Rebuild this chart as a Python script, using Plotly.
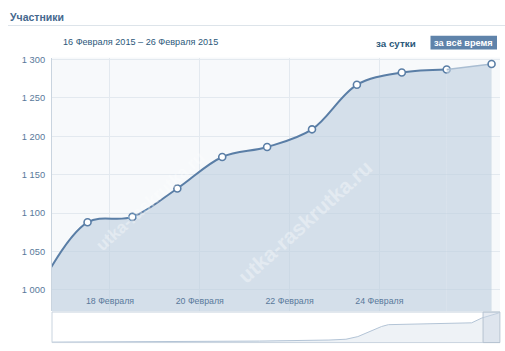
import plotly.graph_objects as go

# ---- data ----
dates = ["2015-02-16 12:00", "2015-02-17 12:00", "2015-02-18 12:00", "2015-02-19 12:00",
         "2015-02-20 12:00", "2015-02-21 12:00", "2015-02-22 12:00", "2015-02-23 12:00",
         "2015-02-24 12:00", "2015-02-25 12:00", "2015-02-26 12:00"]
members = [1010, 1088, 1095, 1132, 1173, 1186, 1209, 1267, 1283, 1287, 1294]

x_tick_vals = ["2015-02-18", "2015-02-20", "2015-02-22", "2015-02-24"]
x_tick_text = ["18 Февраля", "20 Февраля", "22 Февраля", "24 Февраля"]
y_tick_vals = [1000, 1050, 1100, 1150, 1200, 1250, 1300]
y_tick_text = ["1 000", "1 050", "1 100", "1 150", "1 200", "1 250", "1 300"]

nav_dates = ["2014-06-08", "2014-09-03", "2014-10-08", "2014-11-18", "2014-11-28",
             "2014-12-05", "2014-12-12", "2014-12-19", "2014-12-23", "2015-02-10",
             "2015-02-16", "2015-02-26"]
nav_values = [20, 40, 65, 110, 145, 260, 480, 700, 780, 860, 1070, 1290]

title_text = "Участники"
period_text = "16 Февраля 2015 – 26 Февраля 2015"
btn_day = "за сутки"
btn_all = "за всё время"
watermark = "utka-raskrutka.ru"

LINE = "#5a7ea6"
FILL = "rgba(190,206,222,0.62)"
FONT = "Liberation Sans"

fig = go.Figure()

# main series (complete days)
fig.add_trace(go.Scatter(
    x=dates[:-1], y=members[:-1], mode="lines+markers",
    line=dict(color=LINE, width=2, shape="spline", smoothing=1),
    marker=dict(size=7, color="white", line=dict(color=LINE, width=1.6)),
    fill="tozeroy", fillcolor=FILL, hoverinfo="skip",
    xaxis="x", yaxis="y"))
# last (incomplete) day, lighter
fig.add_trace(go.Scatter(
    x=dates[-2:], y=members[-2:], mode="lines",
    line=dict(color="#a9bdd2", width=1.5),
    fill="tozeroy", fillcolor=FILL, hoverinfo="skip",
    xaxis="x", yaxis="y"))
fig.add_trace(go.Scatter(
    x=dates[-1:], y=members[-1:], mode="markers",
    marker=dict(size=7, color="white", line=dict(color=LINE, width=1.6)),
    hoverinfo="skip", xaxis="x", yaxis="y"))

# navigator
fig.add_trace(go.Scatter(
    x=nav_dates, y=nav_values, mode="lines",
    line=dict(color="#b3c4d6", width=1), fill="tozeroy", fillcolor="#eef2f6",
    hoverinfo="skip", xaxis="x2", yaxis="y2"))

H = 351.0
W = 505.0
main_dom_y = [1 - 311 / H, 1 - 55 / H]
nav_dom_y = [1 - 342.5 / H, 1 - 311.7 / H]
dom_x = [52 / W, 500 / W]

fig.update_layout(
    width=505, height=351, margin=dict(l=0, r=0, t=0, b=0),
    paper_bgcolor="white", plot_bgcolor="white", showlegend=False,
    font=dict(family=FONT, size=10, color="#59799b"),
    xaxis=dict(domain=dom_x, anchor="y", type="date",
               range=["2015-02-16 17:00", "2015-02-26 16:30"],
               tickvals=x_tick_vals, ticktext=x_tick_text,
               ticklabelposition="inside", ticks="", ticklabelstandoff=3,
               showgrid=True, gridcolor="#e3e9ef", gridwidth=1,
               zeroline=False, showline=False,
               tickfont=dict(family=FONT, size=8.8, color="#59799b")),
    yaxis=dict(domain=main_dom_y, anchor="x", range=[972, 1302.5],
               tickvals=y_tick_vals, ticktext=y_tick_text, ticks="",
               showgrid=True, gridcolor="#e3e9ef", gridwidth=1,
               zeroline=False, showline=True, linecolor="#c9d4df", linewidth=1,
               ticklabelstandoff=4,
               tickfont=dict(family=FONT, size=9.3, color="#59799b")),
    xaxis2=dict(domain=dom_x, anchor="y2", type="date",
                range=["2014-06-08", "2015-02-26 16:30"],
                showticklabels=False, showgrid=False, zeroline=False, ticks=""),
    yaxis2=dict(domain=nav_dom_y, anchor="x2", range=[0, 1330],
                showticklabels=False, showgrid=False, zeroline=False, ticks=""),
)

shapes = [
    # main plot background
    dict(type="rect", xref="x domain", yref="y domain", x0=0, x1=1, y0=0, y1=1,
         fillcolor="#f7f9fb", line=dict(width=0), layer="below"),
    # navigator border
    dict(type="rect", xref="x2 domain", yref="y2 domain", x0=0, x1=1, y0=0, y1=1,
         fillcolor="rgba(0,0,0,0)", line=dict(color="#c9d4df", width=1), layer="above"),
    # navigator selection window
    dict(type="rect", xref="x2", yref="y2 domain", x0="2015-02-16 17:00", x1="2015-02-26 16:30",
         y0=0, y1=1, fillcolor="rgba(205,216,229,0.5)", line=dict(color="#b6c3d1", width=1),
         layer="above"),
    # header separator
    dict(type="line", xref="paper", yref="paper", x0=8 / W, x1=1, y0=1 - 22.7 / H, y1=1 - 22.7 / H,
         line=dict(color="#dde4ea", width=1)),
    # "за всё время" button
    dict(type="rect", xref="paper", yref="paper", x0=430.5 / W, x1=497 / W,
         y0=1 - 47 / H, y1=1 - 33 / H, fillcolor="#5f83aa", line=dict(width=0)),
]
fig.update_layout(shapes=shapes)

ann = [
    dict(text=title_text, x=8 / W, y=1 - 14 / H, xanchor="left", yanchor="middle",
         font=dict(family=FONT, size=10.5, color="#45688e", weight="bold")),
    dict(text=period_text, x=61 / W, y=1 - 39 / H, xanchor="left", yanchor="middle",
         font=dict(family=FONT, size=9.1, color="#2b587a")),
    dict(text=btn_day, x=418 / W, y=1 - 40.5 / H, xanchor="right", yanchor="middle",
         font=dict(family=FONT, size=9.8, color="#2b587a", weight="bold")),
    dict(text=btn_all, x=463.7 / W, y=1 - 40 / H, xanchor="center", yanchor="middle",
         font=dict(family=FONT, size=9.2, color="white", weight="bold")),
]
# faint watermarks
for (cx, cy, sz) in [(305, 220, 21), (150, 200, 17)]:
    ann.append(dict(text=watermark, x=cx / W, y=1 - cy / H, xanchor="center", yanchor="middle",
                    textangle=-42, opacity=0.35,
                    font=dict(family=FONT, size=sz, color="white", weight="bold")))
for a in ann:
    a.update(xref="paper", yref="paper", showarrow=False)
fig.update_layout(annotations=ann)

fig.write_html("out.html")
